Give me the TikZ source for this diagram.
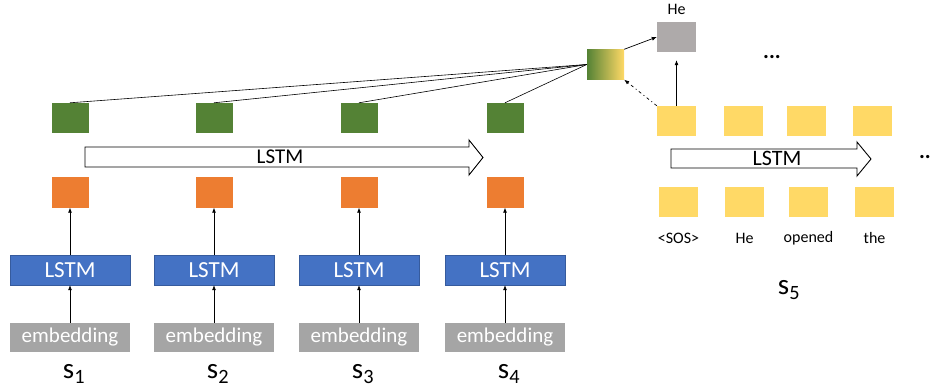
\documentclass[tikz,border=0pt]{standalone}
\usepackage{fontspec}
\setmainfont{Carlito}
\usetikzlibrary{arrows.meta}
\definecolor{encgreen}{HTML}{548235}
\definecolor{encorange}{HTML}{ED7D31}
\definecolor{lstmblue}{HTML}{4472C4}
\definecolor{embgray}{HTML}{A5A5A5}
\definecolor{outgray}{HTML}{AEAAAA}
\definecolor{decyellow}{HTML}{FFD966}
\newcommand{\fs}[1]{\fontsize{#1}{#1}\selectfont}

\begin{document}
\begin{tikzpicture}[x=1pt,y=-1pt,
  sq/.style={minimum width=37pt,minimum height=30pt,inner sep=0pt},
  hid/.style={sq,fill=encgreen},
  emb/.style={sq,fill=encorange},
  dec/.style={sq,minimum width=39pt,fill=decyellow},
  lstmbox/.style={fill=lstmblue,draw=lstmblue!80!black,line width=0.4pt,minimum width=120pt,minimum height=30pt,inner sep=0pt,text=white,font=\fs{23}},
  embbox/.style={fill=embgray,minimum width=120pt,minimum height=29pt,inner sep=0pt,text=white,font=\fs{21}},
  up/.style={-{Latex[length=5pt,width=4pt]},line width=0.7pt},
  hollow/.style={draw,line width=0.9pt,fill=white}]
  \useasboundingbox (0,0) rectangle (931,390);

  \node[hid,left color=encgreen,right color=decyellow] (ctx) at (605.5,64.5) {};
  \node[sq,minimum width=39pt,fill=outgray] (out) at (676.5,37) {};
  \node[font=\fs{16}] (word) at (676.5,9) {He};

  \foreach \x/\i in {70/1,214/2,359/3,505/4}{
    \node[hid] (h\i) at (\x,118) {};
    \node[emb] (e\i) at (\x,192.5) {};
    \node[lstmbox] (l\i) at (\x,270) {LSTM};
    \node[embbox] (w\i) at (\x,337.5) {embedding};
    \node[font=\fs{29}] (s\i) at (\x+4,374) {s\textsubscript{\i}};
    \draw[up] (l\i) -- (e\i);
    \draw[up] (w\i) -- (l\i);
    \draw[line width=0.6pt] (h\i.north) -- (ctx.west);
  }

  \draw[hollow] (85,147) -- (469,147) -- (469,140) -- (483,157.5) -- (469,175) -- (469,167) -- (85,167) -- cycle;
  \node[font=\fs{21}] (enc) at (280,157) {LSTM};

  \foreach \x/\y/\t/\i in {676.5/678.5/{<SOS>}/1,743.5/744.5/He/2,806.5/808.5/opened/3,872.5/874.5/the/4}{
    \node[dec] (d\i) at (\x,121) {};
    \node[dec] (y\i) at (\y,202) {};
    \node[font=\fs{16}] (t\i) at (\y,238) {\t};
  }

  \draw[hollow] (671,149) -- (857,149) -- (857,142) -- (871,159) -- (857,176) -- (857,168) -- (671,168) -- cycle;
  \node[font=\fs{22}] (dlstm) at (777,158) {LSTM};

  \draw[up] (ctx.north east) -- (out.west);
  \draw[up,shorten >=8pt] (d1.north) -- (out.south);
  \draw[-{Latex[length=5pt,width=4pt]},line width=0.7pt,dash pattern=on 3pt off 3pt on 1pt off 3pt] (d1.north west) -- (ctx.south east);

  \node[font=\fs{22}\bfseries] (dots) at (772,57) {...};
  \node[font=\fs{22}\bfseries,anchor=east,inner sep=0pt] (more) at (931,157) {..};
  \node[font=\fs{29}] (s5) at (789,290) {s\textsubscript{5}};
\end{tikzpicture}
\end{document}
